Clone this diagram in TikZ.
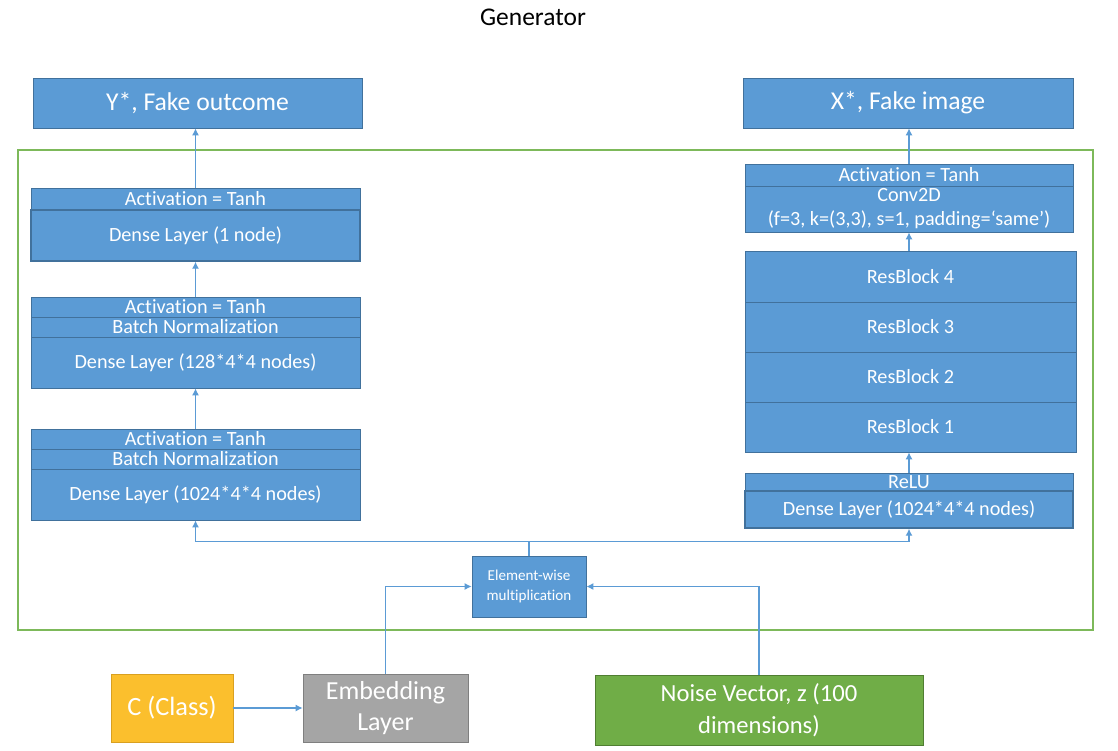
\documentclass[tikz,border=0pt]{standalone}
\usepackage{fontspec}
\setmainfont{Carlito}[Ligatures=NoCommon]
\usepackage{tikz}
\usetikzlibrary{arrows,arrows.meta,positioning}
\definecolor{layerblue}{HTML}{5B9BD5}
\definecolor{layeredge}{HTML}{41719C}
\definecolor{framegreen}{HTML}{7DB95A}
\definecolor{classyellow}{HTML}{FBBF2D}
\definecolor{classedge}{HTML}{D9A020}
\definecolor{embedgrey}{HTML}{A5A5A5}
\definecolor{embededge}{HTML}{7F7F7F}
\definecolor{noisegreen}{HTML}{70AD47}
\definecolor{noiseedge}{HTML}{507E32}

\begin{document}
\begin{tikzpicture}[x=0.02cm, y=-0.02cm, >={Latex[length=4pt,width=4pt]},
    link/.style={draw=layerblue, line width=0.7pt, ->}]
   \useasboundingbox (0,0) rectangle (1118,750);
   \node[font=\fontsize{14.5}{16}\selectfont] (title) at (533,17) {Generator};
   \draw[framegreen, line width=0.9pt] (18,150) rectangle (1093,630);
   \begin{scope}[every node/.style={rectangle,draw=layeredge,fill=layerblue,text=white,inner sep=0pt,align=center,font=\fontsize{11.5}{13.5}\selectfont}]
    % outputs
    \node (ystar) at (197.5,103) [minimum width=6.58cm, minimum height=1cm, font=\fontsize{14.6}{16}\selectfont] {Y*, Fake outcome};
    \node (xstar) at (908,103) [minimum width=6.6cm, minimum height=1cm, font=\fontsize{14.6}{16}\selectfont] {X*, Fake image};
    % left branch
    \node (act1) at (195.5,199) [minimum width=6.58cm, minimum height=0.44cm] {Activation = Tanh};
    \node (dense1) at (195.5,235.5) [minimum width=6.58cm, minimum height=1.02cm, line width=0.8pt] {Dense Layer (1 node)};
    \node (act2) at (195.5,307) [minimum width=6.58cm, minimum height=0.4cm] {Activation = Tanh};
    \node (bn2) at (195.5,327) [minimum width=6.58cm, minimum height=0.4cm] {Batch Normalization};
    \node (dense2) at (195.5,362.5) [minimum width=6.58cm, minimum height=1.02cm] {Dense Layer (128*4*4 nodes)};
    \node (act3) at (195.5,439) [minimum width=6.58cm, minimum height=0.4cm] {Activation = Tanh};
    \node (bn3) at (195.5,459) [minimum width=6.58cm, minimum height=0.4cm] {Batch Normalization};
    \node (dense3) at (195.5,494.5) [minimum width=6.58cm, minimum height=1.02cm] {Dense Layer (1024*4*4 nodes)};
    % right branch
    \node (actR) at (909,175) [minimum width=6.56cm, minimum height=0.44cm] {Activation = Tanh};
    \node (conv) at (909,209) [minimum width=6.56cm, minimum height=0.92cm] {Conv2D\\(f=3, k=(3,3), s=1, padding=‘same’)};
    \node (res4) at (910.5,276.5) [minimum width=6.62cm, minimum height=1.02cm] {ResBlock 4};
    \node (res3) at (910.5,327) [minimum width=6.62cm, minimum height=1cm] {ResBlock 3};
    \node (res2) at (910.5,377) [minimum width=6.62cm, minimum height=1cm] {ResBlock 2};
    \node (res1) at (910.5,427) [minimum width=6.62cm, minimum height=1cm] {ResBlock 1};
    \node (relu) at (909,482) [minimum width=6.56cm, minimum height=0.36cm] {ReLU};
    \node (denseR) at (909,509.5) [minimum width=6.56cm, minimum height=0.74cm, line width=0.8pt] {Dense Layer (1024*4*4 nodes)};
    \node (mult) at (529,586.5) [minimum width=2.28cm, minimum height=1.22cm, font=\fontsize{8.6}{11}\selectfont] {Element-wise\\multiplication};
   \end{scope}
   % inputs
   \node (class) at (172,708) [rectangle, draw=classedge, fill=classyellow, text=white, minimum width=2.44cm, minimum height=1.36cm, font=\fontsize{15}{17}\selectfont] {C (Class)};
   \node (embed) at (385.5,708) [rectangle, draw=embededge, fill=embedgrey, text=white, align=center, minimum width=3.3cm, minimum height=1.36cm, font=\fontsize{14.8}{18}\selectfont] {Embedding\\Layer};
   \node (noise) at (759,710) [rectangle, draw=noiseedge, fill=noisegreen, text=white, align=center, minimum width=6.56cm, minimum height=1.4cm, font=\fontsize{14}{18}\selectfont] {Noise Vector, z (100\\dimensions)};
   % connectors
   \draw[link] (class) -- (embed);
   \draw[link] (embed.north) |- (mult.west);
   \draw[link] (noise.north) |- (mult.east);
   \draw[draw=layerblue, line width=0.7pt] (mult.north) -- ++(0,-14) coordinate (split);
   \draw[link] (split) -| (dense3.south);
   \draw[link] (split) -| (denseR.south);
   \draw[link] (act3.north) -- (dense2.south);
   \draw[link] (act2.north) -- (dense1.south);
   \draw[link] (act1.north) -- (ystar.south -| act1.north);
   \draw[link] (relu.north) -- (res1.south -| relu.north);
   \draw[link] (res4.north -| actR.south) -- (conv.south);
   \draw[link] (actR.north) -- (xstar.south -| actR.north);
\end{tikzpicture}
\end{document}
